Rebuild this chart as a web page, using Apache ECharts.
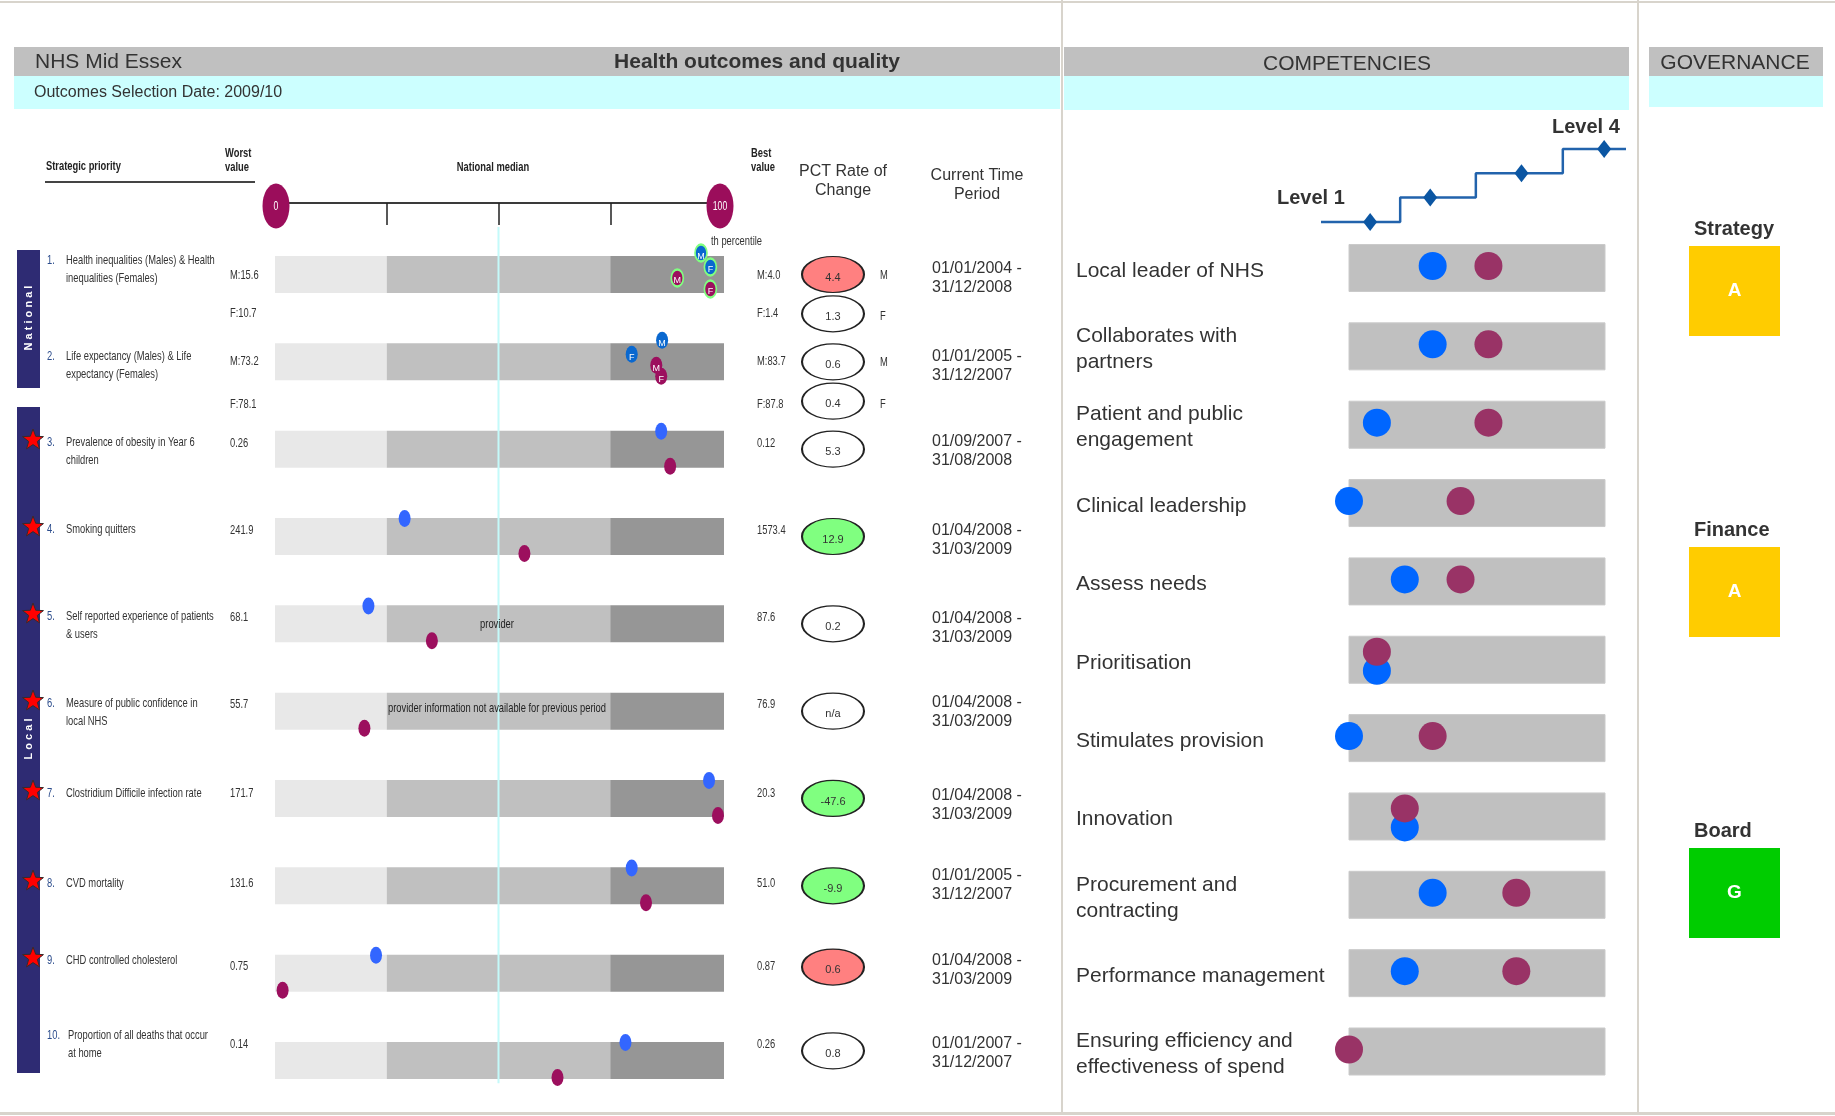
<!DOCTYPE html>
<html>
<head>
<meta charset="utf-8">
<title>NHS Mid Essex – Health outcomes and quality</title>
<script src="https://cdn.jsdelivr.net/npm/echarts@6.0.0/dist/echarts.min.js"></script>
<style>
  html, body { margin: 0; padding: 0; background: #fff; }
  #main { width: 1835px; height: 1116px; }
</style>
</head>
<body>
<div id="main"></div>
<script>
// ---------------- Health outcomes (one row per strategic priority) ----------------
const priorityNumbers = ['1.', '2.', '3.', '4.', '5.', '6.', '7.', '8.', '9.', '10.'];
const priorityLabels = [
  'Health inequalities (Males) & Health\ninequalities (Females)',
  'Life expectancy (Males) & Life\nexpectancy (Females)',
  'Prevalence of obesity in Year 6\nchildren',
  'Smoking quitters',
  'Self reported experience of patients\n& users',
  'Measure of public confidence in\nlocal NHS',
  'Clostridium Difficile infection rate',
  'CVD mortality',
  'CHD controlled cholesterol',
  'Proportion of all deaths that occur\nat home'
];
const starredPriority = [false, false, true, true, true, true, true, true, true, false];
const worstValues = [['M:15.6', 'F:10.7'], ['M:73.2', 'F:78.1'], '0.26', '241.9', '68.1', '55.7', '171.7', '131.6', '0.75', '0.14'];
const bestValues  = [['M:4.0', 'F:1.4'], ['M:83.7', 'F:87.8'], '0.12', '1573.4', '87.6', '76.9', '20.3', '51.0', '0.87', '0.26'];
// national percentile of the PCT value: current period (blue) and previous period (magenta); [males, females] where split
const currentPercentile  = [[95.3, 97.4], [86.6, 79.8], 86.4, 29.0, 20.9, null, 97.1, 79.8, 22.6, 78.4];
const previousPercentile = [[90.0, 97.4], [85.3, 86.4], 88.4, 55.8, 35.1, 20.0, 99.1, 83.0, 1.7, 63.2];
const ringedRow = [true, false, false, false, false, false, false, false, false, false];
const barNotes = [null, null, null, null, 'provider', 'provider information not available for previous period', null, null, null, null];
const rateOfChange = [['4.4', '1.3'], ['0.6', '0.4'], '5.3', '12.9', '0.2', 'n/a', '-47.6', '-9.9', '0.6', '0.8'];
const rateStatus   = [['worse', 'none'], ['none', 'none'], 'none', 'better', 'none', 'none', 'better', 'better', 'worse', 'none'];
const timePeriods = [
  '01/01/2004 -\n31/12/2008', '01/01/2005 -\n31/12/2007', '01/09/2007 -\n31/08/2008',
  '01/04/2008 -\n31/03/2009', '01/04/2008 -\n31/03/2009', '01/04/2008 -\n31/03/2009',
  '01/04/2008 -\n31/03/2009', '01/01/2005 -\n31/12/2007', '01/04/2008 -\n31/03/2009',
  '01/01/2007 -\n31/12/2007'
];
const percentileBands = [0, 25, 75, 100];
const nationalMedian = 50;

// ---------------- Competencies ----------------
const competencies = [
  'Local leader of NHS', 'Collaborates with\npartners', 'Patient and public\nengagement',
  'Clinical leadership', 'Assess needs', 'Prioritisation', 'Stimulates provision', 'Innovation',
  'Procurement and\ncontracting', 'Performance management', 'Ensuring efficiency and\neffectiveness of spend'
];
const competencyBlue    = [3, 3, 1, 0, 2, 1, 0, 2, 3, 2, null];
const competencyMagenta = [5, 5, 5, 4, 4, 1, 3, 2, 6, 6, 0];
const competencyScaleMax = 9.18;
const levelSteps = [1, 2, 3, 4];
const levelStepPositions = [1, 1.77, 2.94, 4];

// ---------------- Governance ----------------
const governanceAreas = ['Strategy', 'Finance', 'Board'];
const governanceRatings = ['A', 'A', 'G'];

// ---------------- styling / layout ----------------
const SANS = "'Liberation Sans',Arial,Helvetica,sans-serif";
const SQUEEZE = 0.72;                                  // horizontal squeeze for the small condensed labels
const TXT = '#333333';
const BLUE_SEX = '#0A68CF', BLUE = '#3366FF', MAGENTA = '#9C0F5E';
const RATE_FILL = { worse: '#FF8080', better: '#80FF80', none: '#FFFFFF' };
const RAG_FILL = { A: '#FFCC00', G: '#00CC00', R: '#FF0000' };

const ROW0 = 274.5, ROW_STEP = 87.33;                 // outcome rows
const rowY = i => ROW0 + i * ROW_STEP;
const LABEL_Y  = [260, 356, 442, 529, 616, 703, 793, 883, 960, 1035];
const VALUE_Y  = [275, 361, 443, 530, 617, 704, 793, 883, 966, 1044];
const F_VALUE_Y = [313, 404];
const PERIOD_Y = [269, 357, 442, 531, 619, 703, 796, 876, 961, 1044];
const RATE_NUDGE = [0, 0, 0, 0, 0, 0, 0, 0, -0.07, -0.11]; // ellipse shift, in rows
const COMP0 = 268, COMP_STEP = 78.35;                 // competency rows
const compY = i => COMP0 + i * COMP_STEP;

// ---------------- static page furniture ----------------
const g = [];
function rect(x, y, w, h, fill, z) {
  g.push({ type: 'rect', silent: true, z: z || 0, shape: { x, y, width: w, height: h }, style: { fill } });
}
function txt(x, y, s, o) {
  o = o || {};
  const size = o.size || 13;
  g.push({
    type: 'text', silent: true, x, y, z: o.z || 20, rotation: o.rotation || 0,
    scaleX: o.narrow ? SQUEEZE : 1,
    style: {
      text: s, fill: o.fill || TXT, fontSize: size, fontFamily: SANS,
      fontWeight: o.weight || 'normal', align: o.align || 'left', verticalAlign: o.valign || 'middle',
      lineHeight: o.lh || Math.round(size * 1.2)
    }
  });
}
const small = (x, y, s, o) => txt(x, y, s, Object.assign({ narrow: true, size: 13 }, o || {}));
function star(cx, cy, R, r) {
  const pts = [];
  for (let k = 0; k < 10; k++) {
    const a = -Math.PI / 2 + k * Math.PI / 5, rad = k % 2 ? r : R;
    pts.push([cx + rad * Math.cos(a), cy + rad * Math.sin(a)]);
  }
  g.push({ type: 'polygon', silent: true, z: 20, shape: { points: pts }, style: { fill: '#FF0000', stroke: '#3a2a2a', lineWidth: 1 } });
}

// frame
rect(0, 1, 1835, 2, '#D8D4CC');
rect(0, 1112, 1835, 3, '#D8D4CC');
rect(1061, 0, 2, 1113, '#D8D4CC');
rect(1637, 0, 2, 1113, '#D8D4CC');

// section headers
rect(14, 47, 1046, 29, '#C0C0C0'); rect(14, 76, 1046, 33, '#CCFFFF');
rect(1064, 47, 565, 29, '#C0C0C0'); rect(1064, 76, 565, 34, '#CCFFFF');
rect(1649, 47, 174, 29, '#C0C0C0'); rect(1649, 76, 174, 31, '#CCFFFF');
txt(35, 62, 'NHS Mid Essex', { size: 21 });
txt(757, 62, 'Health outcomes and quality', { size: 21, weight: 'bold', align: 'center' });
txt(34, 93, 'Outcomes Selection Date: 2009/10', { size: 16 });
txt(1347, 64, 'COMPETENCIES', { size: 21, align: 'center' });
txt(1735, 63, 'GOVERNANCE', { size: 21, align: 'center' });

// outcome column headings
small(46, 166, 'Strategic priority', { weight: 'bold', fill: '#222' });
g.push({ type: 'line', silent: true, z: 20, shape: { x1: 45, y1: 182, x2: 255, y2: 182 }, style: { stroke: '#444', lineWidth: 2 } });
small(225, 160, 'Worst\nvalue', { weight: 'bold', fill: '#222', lh: 14 });
small(493, 167, 'National median', { weight: 'bold', fill: '#222', align: 'center' });
small(751, 160, 'Best\nvalue', { weight: 'bold', fill: '#222', lh: 14 });
txt(843, 181, 'PCT Rate of\nChange', { size: 16, align: 'center', lh: 19 });
txt(977, 185, 'Current Time\nPeriod', { size: 16, align: 'center', lh: 19 });
small(711, 241, 'th percentile');

// national / local side bands
rect(17, 250, 23, 138, '#2E2B73', 5);
rect(17, 407, 23, 666, '#2E2B73', 5);
txt(29, 318, 'N a t i o n a l', { size: 11, weight: 'bold', fill: '#fff', align: 'center', rotation: Math.PI / 2 });
txt(29, 739, 'L o c a l', { size: 11, weight: 'bold', fill: '#fff', align: 'center', rotation: Math.PI / 2 });

// per-row text columns
priorityLabels.forEach((lab, i) => {
  if (starredPriority[i]) star(33, LABEL_Y[i] - 2, 11, 4.6);
  small(47, LABEL_Y[i], priorityNumbers[i], { fill: '#2B4C8C' });
  small(i >= 9 ? 68 : 66, LABEL_Y[i] - 9, lab, { valign: 'top', lh: 18 });
  const w = worstValues[i], b = bestValues[i];
  if (Array.isArray(w)) {
    small(230, VALUE_Y[i], w[0]); small(230, F_VALUE_Y[i], w[1]);
    small(757, VALUE_Y[i], b[0]); small(757, F_VALUE_Y[i], b[1]);
  } else {
    small(230, VALUE_Y[i], w); small(757, VALUE_Y[i], b);
  }
  txt(932, PERIOD_Y[i] - 9.5, timePeriods[i], { size: 16, valign: 'top', lh: 19 });
  if (barNotes[i]) small(497, rowY(i) + (i === 5 ? -3 : 1), barNotes[i], { fill: '#222', align: 'center', z: 30 });
});

// percentile scale end caps
[[276, '0'], [720, '100']].forEach(([x, s]) => {
  g.push({ type: 'circle', silent: true, z: 40, x, y: 206, scaleY: 1.67, shape: { cx: 0, cy: 0, r: 13.5 }, style: { fill: '#9B0D5B' } });
  small(x, 207, s, { size: 12, fill: '#fff', align: 'center', z: 41 });
});

// competency labels and level key
competencies.forEach((c, i) => txt(1076, compY(i) + 3, c, { size: 21, lh: 26 }));
txt(1277, 198, 'Level 1', { size: 20, weight: 'bold' });
txt(1552, 127, 'Level 4', { size: 20, weight: 'bold' });

// governance titles
governanceAreas.forEach((a, i) => txt(1694, 291 + i * 301 - 61.5, a, { size: 20, weight: 'bold' }));

// ---------------- series data ----------------
const currentDots = [], previousDots = [];
const SEX_OFFSETS = { curM: -0.246, curF: -0.086, prevM: 0.04, prevF: 0.166 };
currentPercentile.forEach((c, i) => {
  const p = previousPercentile[i];
  const ring = ringedRow[i] ? { borderColor: '#80FF80', borderWidth: 2 } : {};
  if (Array.isArray(c)) {
    currentDots.push({ value: [c[0], i + SEX_OFFSETS.curM], name: 'M', itemStyle: Object.assign({ color: BLUE_SEX }, ring) });
    currentDots.push({ value: [c[1], i + SEX_OFFSETS.curF], name: 'F', itemStyle: Object.assign({ color: BLUE_SEX }, ring) });
    previousDots.push({ value: [p[0], i + SEX_OFFSETS.prevM], name: 'M', itemStyle: Object.assign({ color: MAGENTA }, ring) });
    previousDots.push({ value: [p[1], i + SEX_OFFSETS.prevF], name: 'F', itemStyle: Object.assign({ color: MAGENTA }, ring) });
  } else {
    if (c != null) currentDots.push({ value: [c, i - 0.205], name: '', itemStyle: { color: BLUE } });
    if (p != null) previousDots.push({ value: [p, i + 0.195], name: '', itemStyle: { color: MAGENTA } });
  }
});

const rateDots = [];
rateOfChange.forEach((r, i) => {
  const st = rateStatus[i];
  const y = i + RATE_NUDGE[i];
  if (Array.isArray(r)) {
    rateDots.push({ value: [0.5, y], name: r[0], itemStyle: { color: RATE_FILL[st[0]] } });
    rateDots.push({ value: [0.5, y + 0.45], name: r[1], itemStyle: { color: RATE_FILL[st[1]] } });
    small(880, rowY(i) + 1, 'M');
    small(880, rowY(i) + 0.45 * ROW_STEP + 3, 'F');
  } else {
    rateDots.push({ value: [0.5, y], name: r, itemStyle: { color: RATE_FILL[st] } });
  }
});

const levelLine = [{ value: [0.37, levelSteps[0]], symbol: 'none' }]
  .concat(levelSteps.map((l, k) => ({ value: [levelStepPositions[k], l] })))
  .concat([{ value: [4.28, levelSteps[levelSteps.length - 1]], symbol: 'none' }]);

const compBlueDots = [], compMagentaDots = [];
competencies.forEach((c, i) => {
  const b = competencyBlue[i], m = competencyMagenta[i];
  const same = b != null && b === m;
  if (b != null) compBlueDots.push({ value: [b, i], symbolOffset: [0, same ? 11 : -2] });
  if (m != null) compMagentaDots.push({ value: [m, i], symbolOffset: [0, same ? -8 : -2] });
});

// ---------------- chart ----------------
const chart = echarts.init(document.getElementById('main'));
const outcomeTop = rowY(-0.6), outcomeHeight = 10.1 * ROW_STEP;
const compTop = compY(-0.5), compHeight = 11 * COMP_STEP;
const dotLabel = { show: true, position: 'inside', formatter: p => p.name, color: '#fff', fontSize: 9, fontFamily: SANS, offset: [0, 3] };

chart.setOption({
  animation: false,
  backgroundColor: '#ffffff',
  graphic: { elements: g },
  grid: [
    { left: 275, top: outcomeTop, width: 447, height: outcomeHeight },
    { left: 802, top: outcomeTop, width: 62, height: outcomeHeight },
    { left: 1321, top: 136.8, width: 305, height: 97.3 },
    { left: 1349, top: compTop, width: 256, height: compHeight },
    { left: 1689, top: 140.5, width: 91, height: 903 }
  ],
  xAxis: [
    {
      gridIndex: 0, type: 'value', min: 0, max: 100, interval: 25, position: 'top', offset: outcomeTop - 203,
      axisLine: { show: true, onZero: false, lineStyle: { color: '#3a3a3a', width: 2 } },
      axisTick: { show: true, inside: true, length: 22, lineStyle: { color: '#222', width: 1.5 } },
      axisLabel: { show: false }, splitLine: { show: false }
    },
    { gridIndex: 1, type: 'value', min: 0, max: 1, show: false },
    { gridIndex: 2, type: 'value', min: 0.37, max: 4.28, show: false },
    { gridIndex: 3, type: 'value', min: 0, max: competencyScaleMax, show: false },
    { gridIndex: 4, type: 'value', min: 0, max: 1, show: false }
  ],
  yAxis: [
    { gridIndex: 0, type: 'value', min: -0.6, max: 9.5, inverse: true, show: false },
    { gridIndex: 1, type: 'value', min: -0.6, max: 9.5, inverse: true, show: false },
    { gridIndex: 2, type: 'value', min: 0.5, max: 4.5, show: false },
    { gridIndex: 3, type: 'value', min: -0.5, max: 10.5, inverse: true, show: false },
    { gridIndex: 4, type: 'category', data: governanceAreas, inverse: true, show: false }
  ],
  series: [
    {
      type: 'custom', xAxisIndex: 0, yAxisIndex: 0, z: 2, silent: true,
      data: priorityLabels.map((_, i) => [i]),
      renderItem: (params, api) => {
        const i = api.value(0);
        const h = api.size([0, 0.424])[1];
        const fills = ['#E8E8E8', '#C0C0C0', '#969696'];
        const children = [];
        for (let k = 0; k < percentileBands.length - 1; k++) {
          const a = api.coord([percentileBands[k], i]);
          const b = api.coord([percentileBands[k + 1], i]);
          children.push({ type: 'rect', shape: { x: a[0], y: a[1] - h / 2, width: b[0] - a[0] + (k === 2 ? 2 : 0), height: h }, style: { fill: fills[k] } });
        }
        return { type: 'group', children };
      }
    },
    {
      type: 'line', xAxisIndex: 0, yAxisIndex: 0, z: 3, silent: true, symbol: 'none', clip: false,
      lineStyle: { color: '#C4FAFA', width: 2 },
      data: [[nationalMedian, -0.545], [nationalMedian, 9.26]]
    },
    {
      type: 'scatter', name: 'previous', xAxisIndex: 0, yAxisIndex: 0, z: 5, clip: false,
      symbol: 'circle', symbolSize: [12, 17], data: previousDots, itemStyle: { opacity: 1 }, label: dotLabel
    },
    {
      type: 'scatter', name: 'current', xAxisIndex: 0, yAxisIndex: 0, z: 6, clip: false,
      symbol: 'circle', symbolSize: [12, 17], data: currentDots, itemStyle: { opacity: 1 }, label: dotLabel
    },
    {
      type: 'scatter', xAxisIndex: 1, yAxisIndex: 1, z: 5, clip: false,
      symbol: 'circle', symbolSize: [62, 36], data: rateDots,
      itemStyle: { borderColor: '#222', borderWidth: 1.6, opacity: 1 },
      label: { show: true, position: 'inside', formatter: p => p.name, color: '#333', fontSize: 11, fontFamily: SANS, offset: [0, 3] }
    },
    {
      type: 'line', xAxisIndex: 2, yAxisIndex: 2, step: 'middle', clip: false,
      symbol: 'diamond', symbolSize: [14, 18], showSymbol: true,
      lineStyle: { color: '#2263AC', width: 2.5 }, itemStyle: { color: '#0B56A3' },
      data: levelLine
    },
    {
      type: 'custom', xAxisIndex: 3, yAxisIndex: 3, z: 2, silent: true,
      data: competencies.map((_, i) => [i]),
      renderItem: (params, api) => {
        const i = api.value(0);
        const h = api.size([0, 0.6])[1];
        const a = api.coord([0, i]), b = api.coord([competencyScaleMax, i]);
        return { type: 'rect', shape: { x: a[0], y: a[1] - h / 2, width: b[0] - a[0], height: h }, style: { fill: '#C0C0C0', stroke: '#CACACA', lineWidth: 1 } };
      }
    },
    {
      type: 'scatter', xAxisIndex: 3, yAxisIndex: 3, z: 5, clip: false,
      symbol: 'circle', symbolSize: 28, itemStyle: { color: '#0066FF', opacity: 1 }, data: compBlueDots
    },
    {
      type: 'scatter', xAxisIndex: 3, yAxisIndex: 3, z: 6, clip: false,
      symbol: 'circle', symbolSize: 28, itemStyle: { color: '#993366', opacity: 1 }, data: compMagentaDots
    },
    {
      type: 'scatter', xAxisIndex: 4, yAxisIndex: 4, z: 5,
      symbol: 'rect', symbolSize: [91, 90], itemStyle: { opacity: 1 },
      data: governanceAreas.map((a, i) => ({ value: [0.5, a], name: governanceRatings[i], itemStyle: { color: RAG_FILL[governanceRatings[i]], opacity: 1 } })),
      label: { show: true, position: 'inside', formatter: p => p.name, color: '#fff', fontSize: 19, fontWeight: 'bold', fontFamily: SANS }
    }
  ]
});
</script>
</body>
</html>
